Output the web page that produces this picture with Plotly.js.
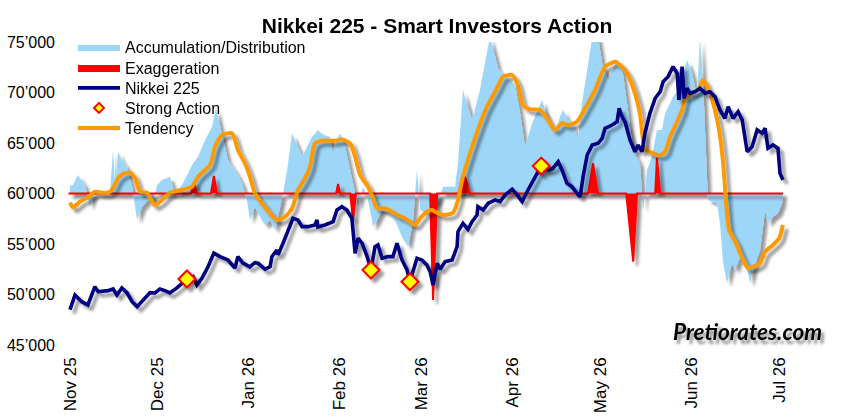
<!DOCTYPE html>
<html>
<head>
<meta charset="utf-8">
<script src="https://cdn.plot.ly/plotly-3.0.1.min.js"></script>
<style>
  html, body { margin: 0; padding: 0; background: #fff; }
  #chart { width: 847px; height: 420px; }
</style>
</head>
<body>
<div id="chart"></div>
<script>
// days counted from 1 Nov 2025
const adDays = [
    0, 1, 2.7, 5.1, 6.8, 7.8, 9.6, 11.9, 13.7, 14.7,
    15.4, 16.4, 17.7, 19.5, 21.2, 22.9, 24.6, 26.6, 28.3, 29.7,
    31.4, 34.1, 35.8, 38.2, 40.3, 42, 43.7, 46.1, 48.5, 49.8,
    53.9, 57, 58.7, 60.4, 61.4, 63.1, 65.5, 66.6, 68.3, 70,
    71, 72.7, 74.1, 75.8, 77.5, 79.2, 80.9, 82.6, 84.6, 86.3,
    88.7, 89.8, 91.1, 92.2, 93.9, 95.6, 96.6, 98.3, 100, 101.4,
    102.4, 103.4, 104.8, 106.5, 108.5, 110.9, 113.3, 115.4, 117.1, 118.4,
    119.5, 121.2, 123.5, 125.6, 127.3, 131.4, 132.4, 134.1, 137.2, 139.9,
    141.6, 143.3, 145.1, 146.1, 147.8, 151.9, 153.6, 155.3, 157.7, 161.1,
    163.1, 165.5, 167.2, 168.3, 170, 172.4, 173.4, 174.7, 176.5, 178.2,
    180.2, 181.6, 183.6, 186.7, 188.4, 190.4, 192.2, 194.5, 195.6, 196.9,
    198.6, 200.3, 202, 203.1, 204.1, 205.8, 207.5, 209.2, 210.6, 212.3,
    214, 215, 216, 216.7, 217.4, 217.7, 220.8, 221.8, 222.9, 224.2,
    225.9, 227, 228.7, 231.1, 232.1, 233.1, 235.5, 237.2, 238.2, 239.9,
    241.6, 243, 243.3
]
const adValues = [
    60800, 60850, 61830, 60850, 58700, 59690, 60180, 60180, 60350, 64310,
    60680, 64140, 63320, 62650, 60680, 57380, 58700, 59360, 59190, 60850,
    61340, 61670, 60020, 60850, 62000, 62990, 63650, 65300, 66620, 68500,
    63320, 62000, 61040, 59360, 57380, 58700, 57380, 56880, 57380, 56390,
    57710, 60020, 62330, 65960, 64800, 63650, 64640, 65620, 66290, 65790,
    65620, 63980, 65300, 65960, 64640, 62330, 60680, 58700, 60680, 59690,
    58370, 56720, 57380, 58370, 58100, 57380, 55730, 54740, 57380, 62330,
    58370, 58100, 58700, 59200, 60680, 60680, 62990, 70250, 67280, 70250,
    72890, 75500, 73540, 72400, 71730, 70740, 67940, 64640, 66950, 69260,
    67280, 65960, 67600, 68270, 67280, 66290, 65460, 68930, 72230, 75500,
    75500, 72890, 71240, 73220, 72560, 67940, 64310, 62990, 58370, 62330,
    63650, 66290, 66290, 67940, 68600, 69590, 70250, 71900, 73220, 71900,
    69590, 75500, 71240, 66290, 60400, 59360, 59030, 57050, 53090, 51110,
    53090, 52430, 53750, 52430, 51110, 52430, 54410, 58370, 57050, 57710,
    58040, 59030, 60000
]

const exagDays = [
    -0.5, 41.3, 42.3, 43.3, 48.1, 49.1, 50.2, 90.8, 91.5, 92.2,
    95.6, 96.6, 97.6, 122.9, 123.9, 125.3, 132.4, 134.8, 136.5, 176.8,
    178.5, 180.2, 189.8, 192.2, 193.5, 199.7, 200.3, 201.4, 243.3
]
const exagValues = [
    60000, 60000, 61140, 60000, 60000, 61740, 60000, 60000, 60950, 60000,
    60000, 57380, 60000, 60000, 49460, 60000, 60000, 61670, 60000, 60000,
    62990, 60000, 60000, 53250, 60000, 60000, 63520, 60000, 60000
]

const nikkeiDays = [
    0, 1.7, 4, 6.1, 8.5, 9.6, 13, 14.7, 16, 17.7,
    19.5, 21.2, 22.9, 24.9, 27.3, 29, 30.7, 32.4, 34.1, 36.5,
    38.2, 39.9, 42, 43.3, 45.1, 47.1, 49.1, 51.2, 53.9, 56.3,
    57.3, 59, 61.4, 63.1, 64.2, 66.6, 68.3, 68.9, 70.6, 71,
    72.7, 74.4, 76.1, 77.8, 79.2, 81.2, 83.6, 84.3, 84.6, 87,
    89.8, 91.1, 92.8, 94.5, 96.2, 97.3, 98.3, 99.7, 101.4, 102.7,
    104.1, 105.1, 106.5, 108.5, 110.2, 111.6, 113.3, 115, 116, 118.4,
    120.1, 121.8, 122.9, 123.9, 125.3, 126.3, 128, 130.4, 132.1, 132.4,
    134.1, 135.8, 137.2, 138.9, 139.2, 141, 142.7, 145.1, 146.8, 148.5,
    150.9, 152.6, 154.3, 156.3, 158.7, 160.8, 163.1, 164.8, 166.6, 167.9,
    169.6, 171.3, 173, 174.1, 175.1, 176.5, 178.2, 180.2, 181.6, 182.6,
    185, 186.7, 187.4, 188.4, 189.4, 191.1, 192.8, 193.9, 195.2, 196.2,
    197.9, 199.7, 201.4, 202.4, 204.1, 205.8, 207.2, 207.8, 208.9, 209.6,
    210.6, 211.6, 213.3, 215, 216.7, 218.4, 220.1, 221.8, 223.5, 224.6,
    226.3, 228, 229.4, 231.1, 232.8, 234.5, 236.2, 237.2, 238.2, 239.9,
    241.6, 242.3, 243.3
]
const nikkeiValues = [
    48500, 49950, 49290, 48960, 50780, 50280, 50380, 50550, 49950, 50650,
    50150, 49290, 48800, 49460, 50180, 50150, 50550, 50380, 50150, 50650,
    51140, 51540, 51770, 50940, 51640, 52750, 54100, 53750, 53420, 52630,
    53750, 53120, 52750, 53150, 53090, 52500, 52760, 53750, 54410, 53920,
    55070, 56220, 57550, 57380, 56720, 56720, 56880, 57380, 56690, 56880,
    57210, 58370, 58700, 58370, 57550, 54080, 55570, 55070, 53750, 52430,
    54740, 54900, 53580, 53750, 53750, 55070, 53420, 52430, 51270, 53580,
    53420, 52920, 52260, 50940, 53090, 52500, 53250, 53420, 54740, 56220,
    57050, 56450, 57210, 57870, 58700, 58370, 59030, 59360, 59190, 59860,
    60420, 59860, 59190, 60350, 61670, 62720, 62330, 62490, 63150, 62330,
    61010, 60680, 60020, 59690, 61670, 63810, 64800, 64970, 65460, 66460,
    66780, 67110, 68430, 67600, 67110, 65300, 64140, 64800, 64140, 65960,
    67940, 69430, 70080, 71070, 71570, 72560, 71900, 69260, 72560, 69430,
    70420, 69920, 70080, 70420, 69920, 70080, 69590, 68270, 67440, 68600,
    67440, 68100, 67280, 64140, 64640, 66290, 65960, 66460, 64480, 64800,
    64480, 61990, 61330
]

const strongDays = [39.9, 102.7, 116, 160.8]
const strongValues = [51540, 52430, 51270, 62720]

const trendDays = [
    0, 1, 3.4, 6.1, 8.5, 10.9, 13, 14.7, 16.4, 18.1,
    20.5, 22.2, 23.9, 26.3, 28, 29, 31.4, 34.1, 38.2, 41.6,
    43.7, 47.8, 49.5, 51.9, 55.3, 57.3, 59.7, 61.4, 63.1, 65.5,
    68.3, 70.6, 73.4, 75.8, 77.8, 80.2, 81.9, 83.6, 86, 90.4,
    92.8, 95.6, 97.3, 99, 101.7, 103.4, 104.8, 107.5, 109.9, 111.6,
    114.3, 117.7, 119.5, 121.8, 123.5, 125.6, 128, 130.7, 132.4, 133.8,
    135.8, 139.2, 142.3, 145.7, 147.8, 150.9, 152.6, 154.6, 157, 160.4,
    162.8, 165.5, 167.9, 170, 173, 175.8, 179.2, 182.6, 186, 187.7,
    190.1, 192.8, 194.5, 196.2, 199, 201.4, 203.1, 204.8, 207.2, 208.9,
    209.9, 212.3, 214.7, 216, 217.7, 219.8, 221.5, 222.9, 223.9, 224.9,
    227.3, 229.7, 231.4, 233.1, 235.5, 237.2, 239.9, 242, 243.3
]
const trendValues = [
    59090, 58630, 59190, 59620, 60180, 60080, 60080, 60520, 61510, 61940,
    62070, 61510, 60180, 60080, 59190, 58860, 59360, 60080, 60350, 60680,
    61670, 62820, 64640, 65790, 65960, 64310, 62990, 61670, 60020, 59030,
    58040, 57380, 57710, 58540, 60350, 61510, 62650, 64960, 65230, 65230,
    65360, 64960, 63650, 61830, 60680, 59520, 58540, 58540, 58200, 57870,
    57550, 56880, 57550, 58200, 58370, 58040, 57870, 58100, 59360, 61340,
    63320, 66290, 68600, 70420, 71570, 71730, 70910, 68760, 68330, 68270,
    67440, 66290, 66950, 66780, 67110, 68430, 70250, 72560, 73050, 72720,
    71900, 69920, 67940, 64480, 63980, 63810, 64140, 65620, 67110, 68270,
    69430, 69920, 70420, 71240, 70420, 68600, 66290, 62990, 59030, 56390,
    55070, 53420, 52590, 52760, 53090, 54240, 54900, 55570, 56880
]

const monthTicks = ['2025-11-01', '2025-12-01', '2026-01-01', '2026-02-01', '2026-03-01',
                    '2026-04-01', '2026-05-01', '2026-06-01', '2026-07-01']
const monthLabels = ['Nov 25', 'Dec 25', 'Jan 26', 'Feb 26', 'Mar 26',
                     'Apr 26', 'May 26', 'Jun 26', 'Jul 26']
const yTicks = [45000, 50000, 55000, 60000, 65000, 70000, 75000]
const yLabels = ['45’000', '50’000', '55’000', '60’000', '65’000', '70’000', '75’000']

const BASE = Date.UTC(2025, 10, 1)
function toDate(d){
    return new Date(BASE + d * 86400000).toISOString().slice(0, 19).replace('T', ' ')
}
const dates = (arr)=>arr.map(toDate)

const FONT = 'Liberation Sans, Arial, sans-serif'

const traces = [
    {   // zero line of the A/D area
        x: dates([0, 243.3]), y: [60000, 60000],
        mode: 'lines', line: {width: 0}, showlegend: false, hoverinfo: 'skip'
    },
    {
        name: 'Accumulation/Distribution', legend: 'legend',
        x: dates(adDays), y: adValues,
        mode: 'lines', line: {width: 0, color: '#9dd6f8'},
        fill: 'tonexty', fillcolor: '#9dd6f8'
    },
    {
        name: 'Exaggeration', legend: 'legend2',
        x: dates(exagDays), y: exagValues,
        mode: 'lines', line: {width: 2, color: '#ff0000'},
        fill: 'toself', fillcolor: '#ff0000'
    },
    {
        name: 'Tendency', legend: 'legend5',
        x: dates(trendDays), y: trendValues,
        mode: 'lines', line: {width: 4, color: '#ff9900', shape: 'spline', smoothing: 0.6}
    },
    {
        name: 'Nikkei 225', legend: 'legend3',
        x: dates(nikkeiDays), y: nikkeiValues,
        mode: 'lines', line: {width: 3.6, color: '#000080'}
    },
    {
        name: 'Strong Action', legend: 'legend4',
        x: dates(strongDays), y: strongValues,
        mode: 'markers',
        marker: {symbol: 'diamond', size: 13, color: '#ffff00', line: {color: '#ff0000', width: 2}}
    }
]

// one small legend per entry so the rows sit 20px apart like the original
function legendAt(ypx){
    return {
        x: 0.0175, y: (345 - ypx) / 303, xanchor: 'left', yanchor: 'middle',
        bgcolor: 'rgba(0,0,0,0)', font: {family: FONT, size: 16, color: '#000'},
        itemwidth: 42
    }
}

const layout = {
    width: 847, height: 420,
    margin: {l: 60, r: 45, t: 42, b: 75},
    paper_bgcolor: '#ffffff', plot_bgcolor: '#ffffff',
    font: {family: FONT, size: 16, color: '#000'},
    title: {
        text: 'Nikkei 225 - Smart Investors Action',
        font: {family: FONT, size: 21, weight: 'bold', color: '#000'},
        x: 0.516, xanchor: 'center', y: 0.94, yanchor: 'middle'
    },
    showlegend: true,
    legend: legendAt(47),
    legend2: legendAt(68),
    legend3: legendAt(88),
    legend4: legendAt(108),
    legend5: legendAt(128),
    xaxis: {
        type: 'date',
        range: [toDate(-3.41), toDate(249.8)],
        tickvals: monthTicks, ticktext: monthLabels,
        tickangle: -90, tickfont: {family: FONT, size: 17},
        ticks: '', showgrid: false, zeroline: false, showline: false,
        ticklabelstandoff: 8
    },
    yaxis: {
        range: [45000, 75000],
        tickvals: yTicks, ticktext: yLabels,
        tickfont: {family: FONT, size: 16},
        ticks: '', showgrid: false, zeroline: false, showline: false,
        ticklabelstandoff: 4
    },
    annotations: [{
        text: 'Pretiorates.com',
        xref: 'paper', yref: 'paper', x: 1.03, y: 0.045, xanchor: 'right', yanchor: 'middle',
        showarrow: false,
        font: {family: 'Lato, Open Sans, sans-serif', size: 22.5, weight: 'bold', style: 'italic',
               color: '#000', shadow: '3px 4px 3px rgba(0,0,0,0.45)'}
    }]
}

Plotly.newPlot('chart', traces, layout, {displayModeBar: false, staticPlot: true}).then((gd)=>{
    // excel style drop shadow under the series
    const NS = 'http://www.w3.org/2000/svg'
    const defs = gd.querySelector('.main-svg defs')
    const filter = document.createElementNS(NS, 'filter')
    filter.setAttribute('id', 'seriesShadow')
    filter.setAttribute('filterUnits', 'userSpaceOnUse')
    filter.setAttribute('x', '-100'); filter.setAttribute('y', '-100')
    filter.setAttribute('width', '1100'); filter.setAttribute('height', '700')
    filter.innerHTML =
        '<feGaussianBlur in="SourceAlpha" stdDeviation="1.8" result="b"/>' +
        '<feOffset in="b" dx="4" dy="4" result="o"/>' +
        '<feComponentTransfer in="o" result="s"><feFuncA type="linear" slope="0.4"/></feComponentTransfer>' +
        '<feMerge><feMergeNode in="s"/><feMergeNode in="SourceGraphic"/></feMerge>'
    defs.appendChild(filter)
    gd.querySelectorAll('.scatterlayer .trace').forEach((t)=>{
        t.setAttribute('filter', 'url(#seriesShadow)')
    })
    // the legend diamond is smaller than the chart markers
    gd.querySelectorAll('.legendpoints path.scatterpts').forEach((p)=>{
        p.setAttribute('d', 'M5,0L0,5L-5,0L0,-5Z')
        p.style.strokeWidth = '2px'
    })
})
</script>
</body>
</html>
